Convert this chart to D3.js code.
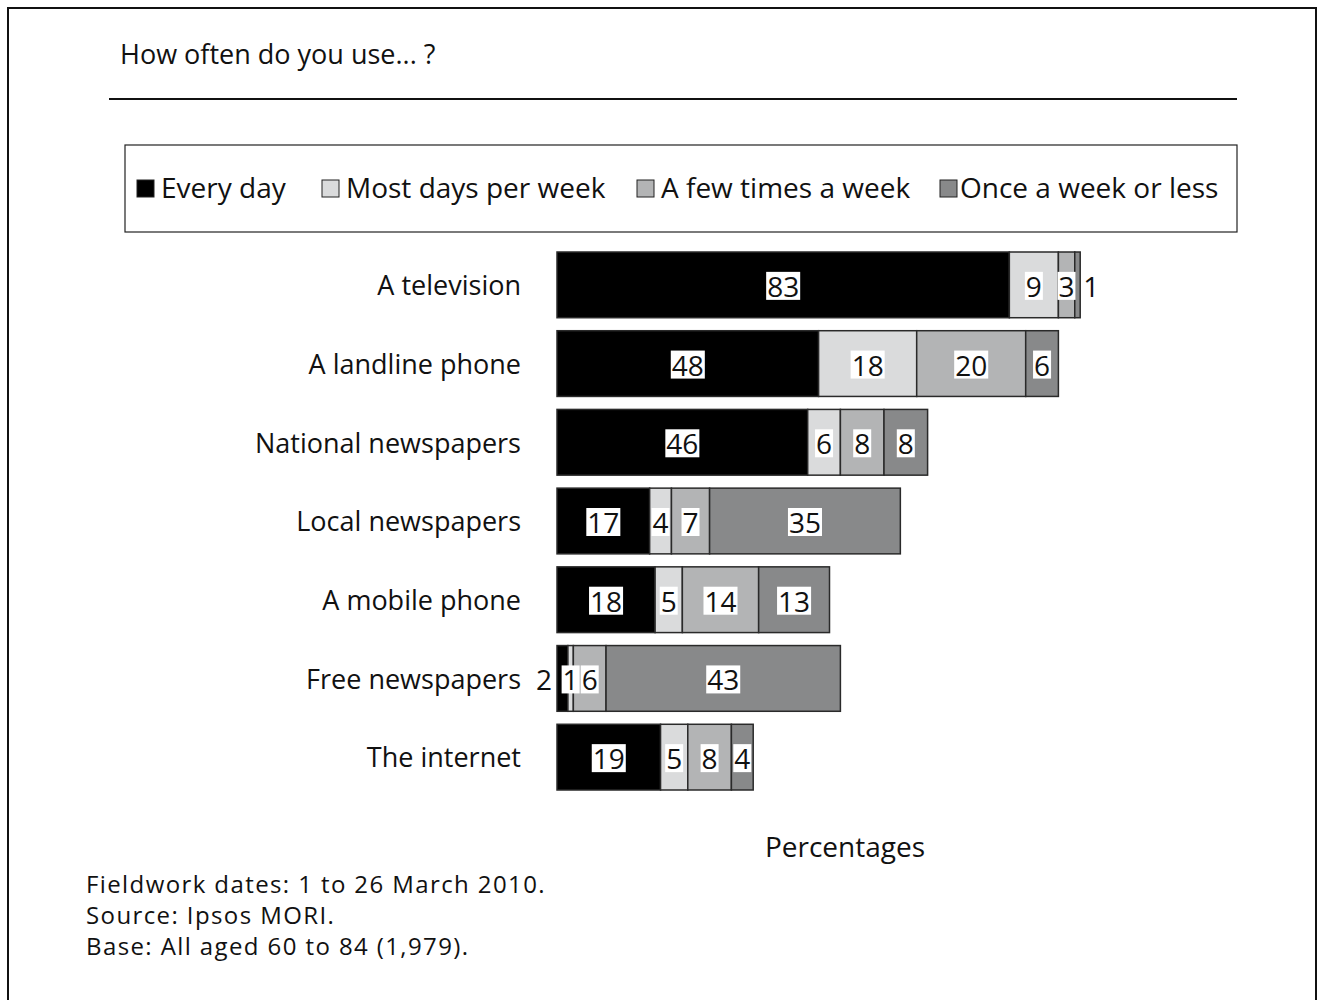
<!DOCTYPE html>
<html>
<head>
<meta charset="utf-8">
<script src="https://cdn.jsdelivr.net/npm/d3@7"></script>
<style>
  html, body { margin: 0; padding: 0; background: #fff; }
  svg text { font-family: "Open Sans", "Noto Sans", sans-serif; fill: #111; }
</style>
</head>
<body>
<svg id="chart" width="1324" height="1000"></svg>
<script>
// Survey categories and the share (%) answering each frequency
const categories = ["A television", "A landline phone", "National newspapers",
  "Local newspapers", "A mobile phone", "Free newspapers", "The internet"];
const everyDay = [83, 48, 46, 17, 18, 2, 19];
const mostDays = [9, 18, 6, 4, 5, 1, 5];
const fewTimes = [3, 20, 8, 7, 14, 6, 8];
const onceWeek = [1, 6, 8, 35, 13, 43, 4];

const seriesNames = ["Every day", "Most days per week", "A few times a week", "Once a week or less"];
const seriesColors = ["#000000", "#dadbdc", "#b3b4b5", "#88898a"];
const footnotes = ["Fieldwork dates: 1 to 26 March 2010.", "Source: Ipsos MORI.",
  "Base: All aged 60 to 84 (1,979)."];

const rows = categories.map((c, i) => ({
  category: c, values: [everyDay[i], mostDays[i], fewTimes[i], onceWeek[i]]
}));

const svg = d3.select("#chart");

// outer frame
svg.append("rect").attr("x", 8).attr("y", 8).attr("width", 1308).attr("height", 1010)
  .attr("fill", "none").attr("stroke", "#111").attr("stroke-width", 2);

// heading and rule
svg.append("text").attr("x", 120).attr("y", 64).attr("font-size", 27).text("How often do you use... ?");
svg.append("line").attr("x1", 109).attr("x2", 1237).attr("y1", 99).attr("y2", 99)
  .attr("stroke", "#111").attr("stroke-width", 2);

// legend box
svg.append("rect").attr("x", 125).attr("y", 145).attr("width", 1112).attr("height", 87)
  .attr("fill", "#fff").attr("stroke", "#222").attr("stroke-width", 1.2);
const legendX = [137, 322, 637, 940];
const legend = svg.append("g").selectAll("g").data(seriesNames).join("g")
  .attr("transform", (d, i) => `translate(${legendX[i]},180)`);
legend.append("rect").attr("width", 17).attr("height", 17).attr("y", 0)
  .attr("fill", (d, i) => seriesColors[i]).attr("stroke", "#222").attr("stroke-width", 1);
legend.append("text").attr("x", (d, i) => i === 3 ? 20 : 24).attr("y", 18)
  .attr("font-size", 28).text(d => d);

// scales
const x = d3.scaleLinear().domain([0, 100]).range([557, 557 + 545]);
const y = d3.scaleBand().domain(categories).range([252, 790]).paddingInner(0.165).paddingOuter(0);

// category labels
svg.append("g").selectAll("text").data(categories).join("text")
  .attr("x", 521).attr("y", d => y(d) + y.bandwidth() / 2 + 3)
  .attr("text-anchor", "end").attr("dominant-baseline", "middle")
  .attr("font-size", 27).text(d => d);

// stacked segments
const segs = [];
rows.forEach(r => {
  let acc = 0;
  r.values.forEach((v, k) => {
    segs.push({ category: r.category, k, v, x0: acc, x1: acc + v, last: k === r.values.length - 1 });
    acc += v;
  });
});

svg.append("g").selectAll("rect").data(segs).join("rect")
  .attr("x", d => x(d.x0)).attr("width", d => x(d.x1) - x(d.x0))
  .attr("y", d => y(d.category)).attr("height", y.bandwidth())
  .attr("fill", d => seriesColors[d.k]).attr("stroke", "#2a2a2a").attr("stroke-width", 1.5);

// value labels: centred on each segment with a white backing; very narrow end segments are labelled outside
const labels = svg.append("g");
segs.forEach(d => {
  const w = x(d.x1) - x(d.x0);
  const cy = y(d.category) + y.bandwidth() / 2 + 1;
  let lx = x((d.x0 + d.x1) / 2), anchor = "middle", boxed = true;
  if (w < 12 && d.k === 0) { lx = x(0) - 5; anchor = "end"; boxed = false; }
  else if (w < 12 && d.last) { lx = x(d.x1) + 3; anchor = "start"; boxed = false; }
  const g = labels.append("g");
  const t = g.append("text").attr("x", lx).attr("y", cy).attr("text-anchor", anchor)
    .attr("dominant-baseline", "central").attr("font-size", 28).text(d.v);
  if (boxed) {
    const bb = t.node().getBBox();
    g.insert("rect", "text").attr("x", bb.x - 1).attr("y", cy - 14)
      .attr("width", bb.width + 2).attr("height", 28).attr("fill", "#fff");
  }
});

// unit note
svg.append("text").attr("x", 845).attr("y", 857).attr("text-anchor", "middle")
  .attr("font-size", 28).attr("font-weight", 500).text("Percentages");

// footnotes
svg.append("g").selectAll("text").data(footnotes).join("text")
  .attr("x", 86).attr("y", (d, i) => 893 + i * 31).attr("font-size", 24)
  .attr("letter-spacing", 1.4).text(d => d);
</script>
</body>
</html>
